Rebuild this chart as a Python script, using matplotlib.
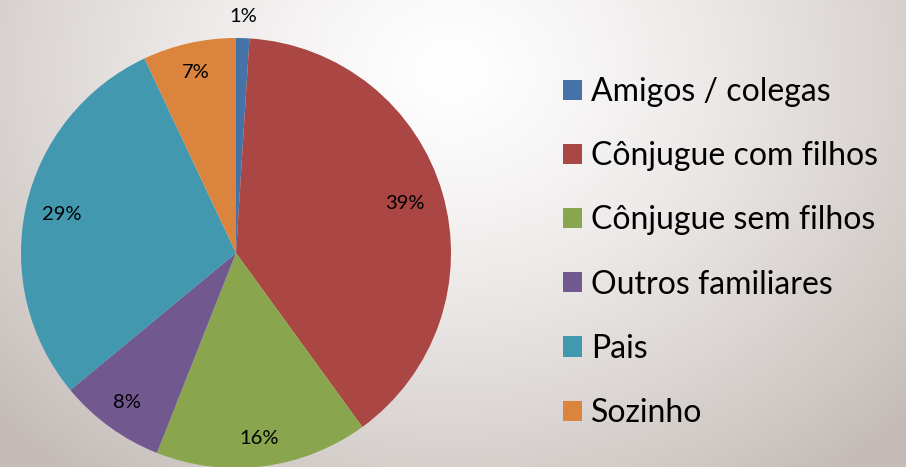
import numpy as np
import matplotlib
matplotlib.use("Agg")
import matplotlib.pyplot as plt

categories = ["Amigos / colegas", "Cônjugue com filhos", "Cônjugue sem filhos",
              "Outros familiares", "Pais", "Sozinho"]
values = [1, 39, 16, 8, 29, 7]
colors = ["#4572a7", "#aa4643", "#89a54e", "#71588f", "#4198af", "#db843d"]
label_dist = [1.10, 0.82, 0.87, 0.86, 0.83, 0.86]

plt.rcParams['font.family'] = ['Lato', 'DejaVu Sans']

W, H = 906, 467
fig = plt.figure(figsize=(W / 100, H / 100), dpi=100)

# background radial gradient
bg = fig.add_axes([0, 0, 1, 1])
yy, xx = np.mgrid[0:H, 0:W]
cx, cy = 450, 70
d = np.sqrt(((xx - cx) / 620.0) ** 2 + ((yy - cy) / 520.0) ** 2)
d = np.clip(d, 0, 1) ** 1.3
white = np.array([1.0, 1.0, 1.0])
gray = np.array([196, 187, 183]) / 255.0
img = white[None, None, :] * (1 - d[..., None]) + gray[None, None, :] * d[..., None]
bg.imshow(img, extent=[0, W, H, 0], aspect='auto')
bg.set_xlim(0, W)
bg.set_ylim(H, 0)
bg.axis('off')

cxp, cyp, r = 236, 253, 215
ax = fig.add_axes([(cxp - r) / W, (H - cyp - r) / H, 2 * r / W, 2 * r / H])
wedges, _ = ax.pie(values, colors=colors, startangle=90, counterclock=False,
                   wedgeprops=dict(linewidth=0))
ax.set_xlim(-1, 1)
ax.set_ylim(-1, 1)
ax.set_facecolor('none')

total = sum(values)
for w, v, dist in zip(wedges, values, label_dist):
    ang = np.deg2rad((w.theta1 + w.theta2) / 2)
    ax.text(dist * np.cos(ang), dist * np.sin(ang), f"{v / total * 100:.0f}%",
            ha='center', va='center', fontsize=14.5, color='black', clip_on=False)

leg = fig.legend(wedges, categories, loc='upper left',
                 bbox_to_anchor=(563 / W, 1 - 77 / H),
                 frameon=False, fontsize=23, labelspacing=1.07,
                 handlelength=0.6, handleheight=0.6, handletextpad=0.28,
                 borderaxespad=0, borderpad=0)
for t in leg.get_texts():
    t.set_color('black')

fig.savefig("out.png", dpi=100)
